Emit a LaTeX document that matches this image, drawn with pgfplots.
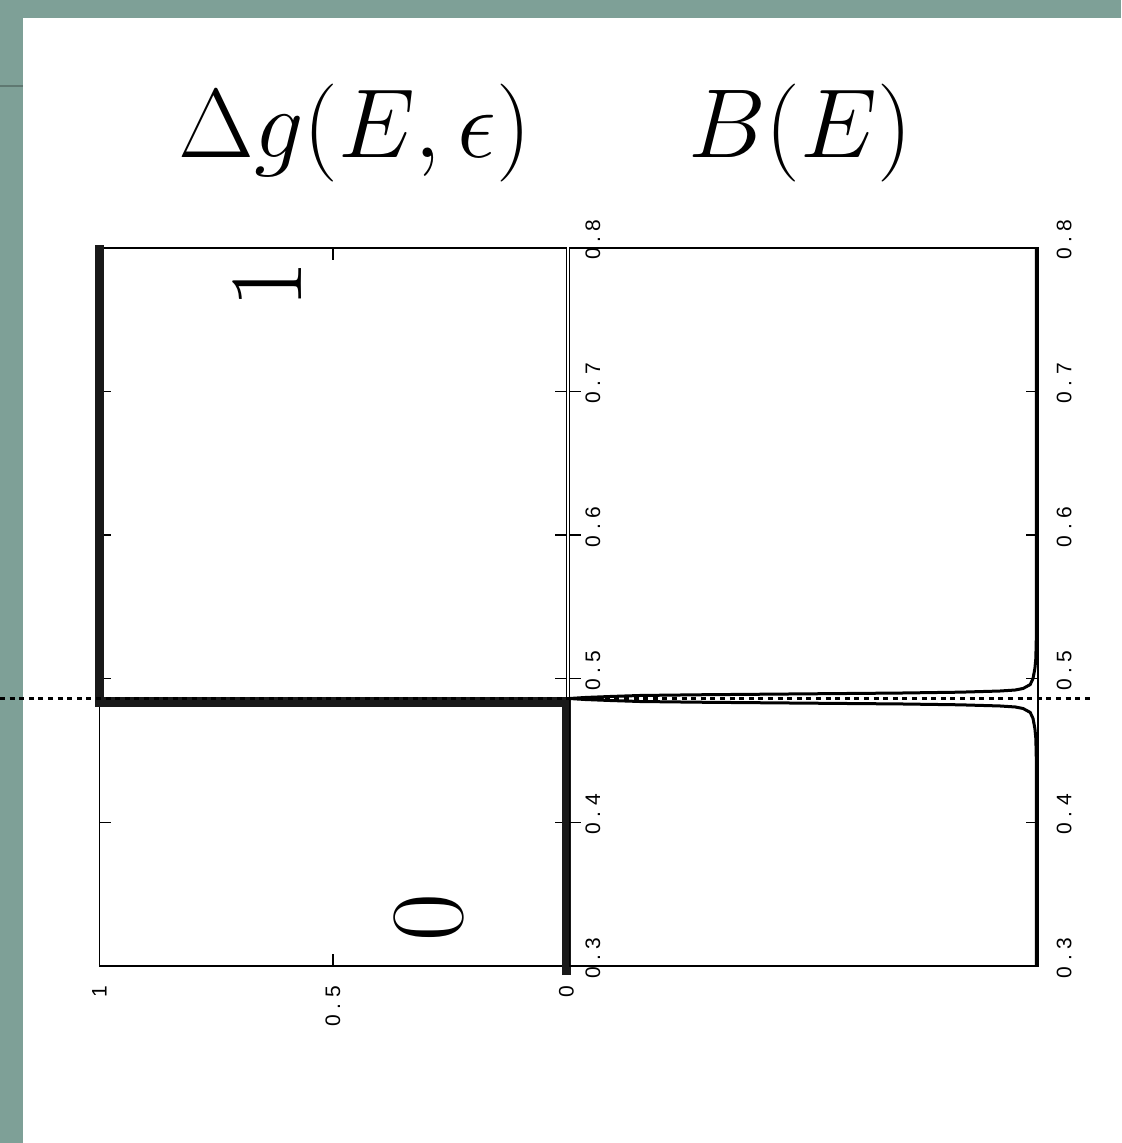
\documentclass[border=0pt]{standalone}
\usepackage{fix-cm}
\usepackage{fontspec}
\usepackage{pgfplots}
\pgfplotsset{compat=1.18}
\usepackage{pgfplotstable}
\newfontfamily\tickfont[LetterSpace=27]{Liberation Sans}
\definecolor{slidebg}{RGB}{126,160,151}

% B(E): narrow resonance around E = 0.4862
\pgfplotstableread{
E      B
0.3000 0.003
0.4444 0.003
0.4584 0.004
0.4653 0.006
0.4723 0.010
0.4765 0.016
0.4792 0.031
0.4803 0.048
0.4810 0.081
0.4818 0.166
0.4824 0.294
0.4830 0.507
0.4836 0.721
0.4841 0.849
0.4848 0.913
0.4855 0.967
0.4862 1.000
0.4869 0.967
0.4876 0.913
0.4883 0.849
0.4888 0.721
0.4894 0.507
0.4900 0.294
0.4906 0.166
0.4914 0.081
0.4921 0.048
0.4932 0.031
0.4959 0.016
0.5001 0.010
0.5071 0.006
0.5140 0.004
0.5280 0.003
0.8000 0.003
}\peaktable

% Delta g(E, epsilon): step from 0 to 1
\pgfplotstableread{
dg  E
0   0.2937
0   0.4838
1   0.4838
1   0.8019
}\steptable

\pgfplotsset{
  panel/.style={
    scale only axis,
    height=359.15pt,
    ymin=0.3, ymax=0.8,
    ytick={0.3,0.4,0.5,0.6,0.7,0.8},
    yticklabel pos=right,
    ytick pos=both,
    axis line style={line width=0.9pt},
    major tick length=6pt,
    tick style={black, line width=0.8pt},
    tick label style={font=\tickfont\fontsize{10.5}{12}\selectfont},
    /pgf/number format/assume math mode=true,
    /pgf/number format/fixed,
    yticklabel style={yshift=4pt, rotate=90, anchor=north},
    yticklabel shift=6pt,
    x dir=reverse,
    xmin=0, xmax=1,
    clip=false,
  }
}

\begin{document}
\begin{tikzpicture}
\useasboundingbox (0,0) rectangle (560.5pt,571.5pt);
\fill[slidebg] (0,0) rectangle (560.5pt,571.5pt);
\fill[white] (11.5pt,0) rectangle (560.5pt,562.5pt);
\draw[slidebg!75!black, line width=0.6pt] (0,528.5pt) -- (11.5pt,528.5pt);

% titles
\node[anchor=base, font=\fontsize{49}{56}\selectfont] at (177.5pt,492.5pt) {$\Delta g(E,\epsilon)$};
\node[anchor=base, font=\fontsize{49}{56}\selectfont] at (400pt,492.5pt) {$B(E)$};

% left panel
\begin{axis}[panel,
  at={(49.75pt,88.5pt)}, anchor=south west,
  width=233.5pt,
  xtick={0,0.5,1},
  xtick pos=both,
  xticklabel pos=bottom,
  xticklabel style={rotate=90, anchor=east},
  xticklabel shift=6.5pt,
]
\addplot[black!90, line width=4.9pt, line join=miter] table[x=dg, y=E] {\steptable};
\node[rotate=90, font=\fontsize{52}{60}\selectfont] at (axis cs:0.640,0.774) {1};
\node[rotate=90, font=\fontsize{52}{60}\selectfont] at (axis cs:0.2955,0.3334) {0};
\end{axis}

% right panel
\begin{axis}[panel,
  at={(284.75pt,88.5pt)}, anchor=south west,
  width=234.1pt,
  xtick=\empty,
]
\addplot[black, line width=1.5pt, line join=round] table[x=B, y=E] {\peaktable};
\addplot[black, line width=1.6pt, dash pattern=on 2.5pt off 2.3pt]
  coordinates {(2.2164,0.4862) (-0.1202,0.4862)};
\end{axis}
\end{tikzpicture}
\end{document}
